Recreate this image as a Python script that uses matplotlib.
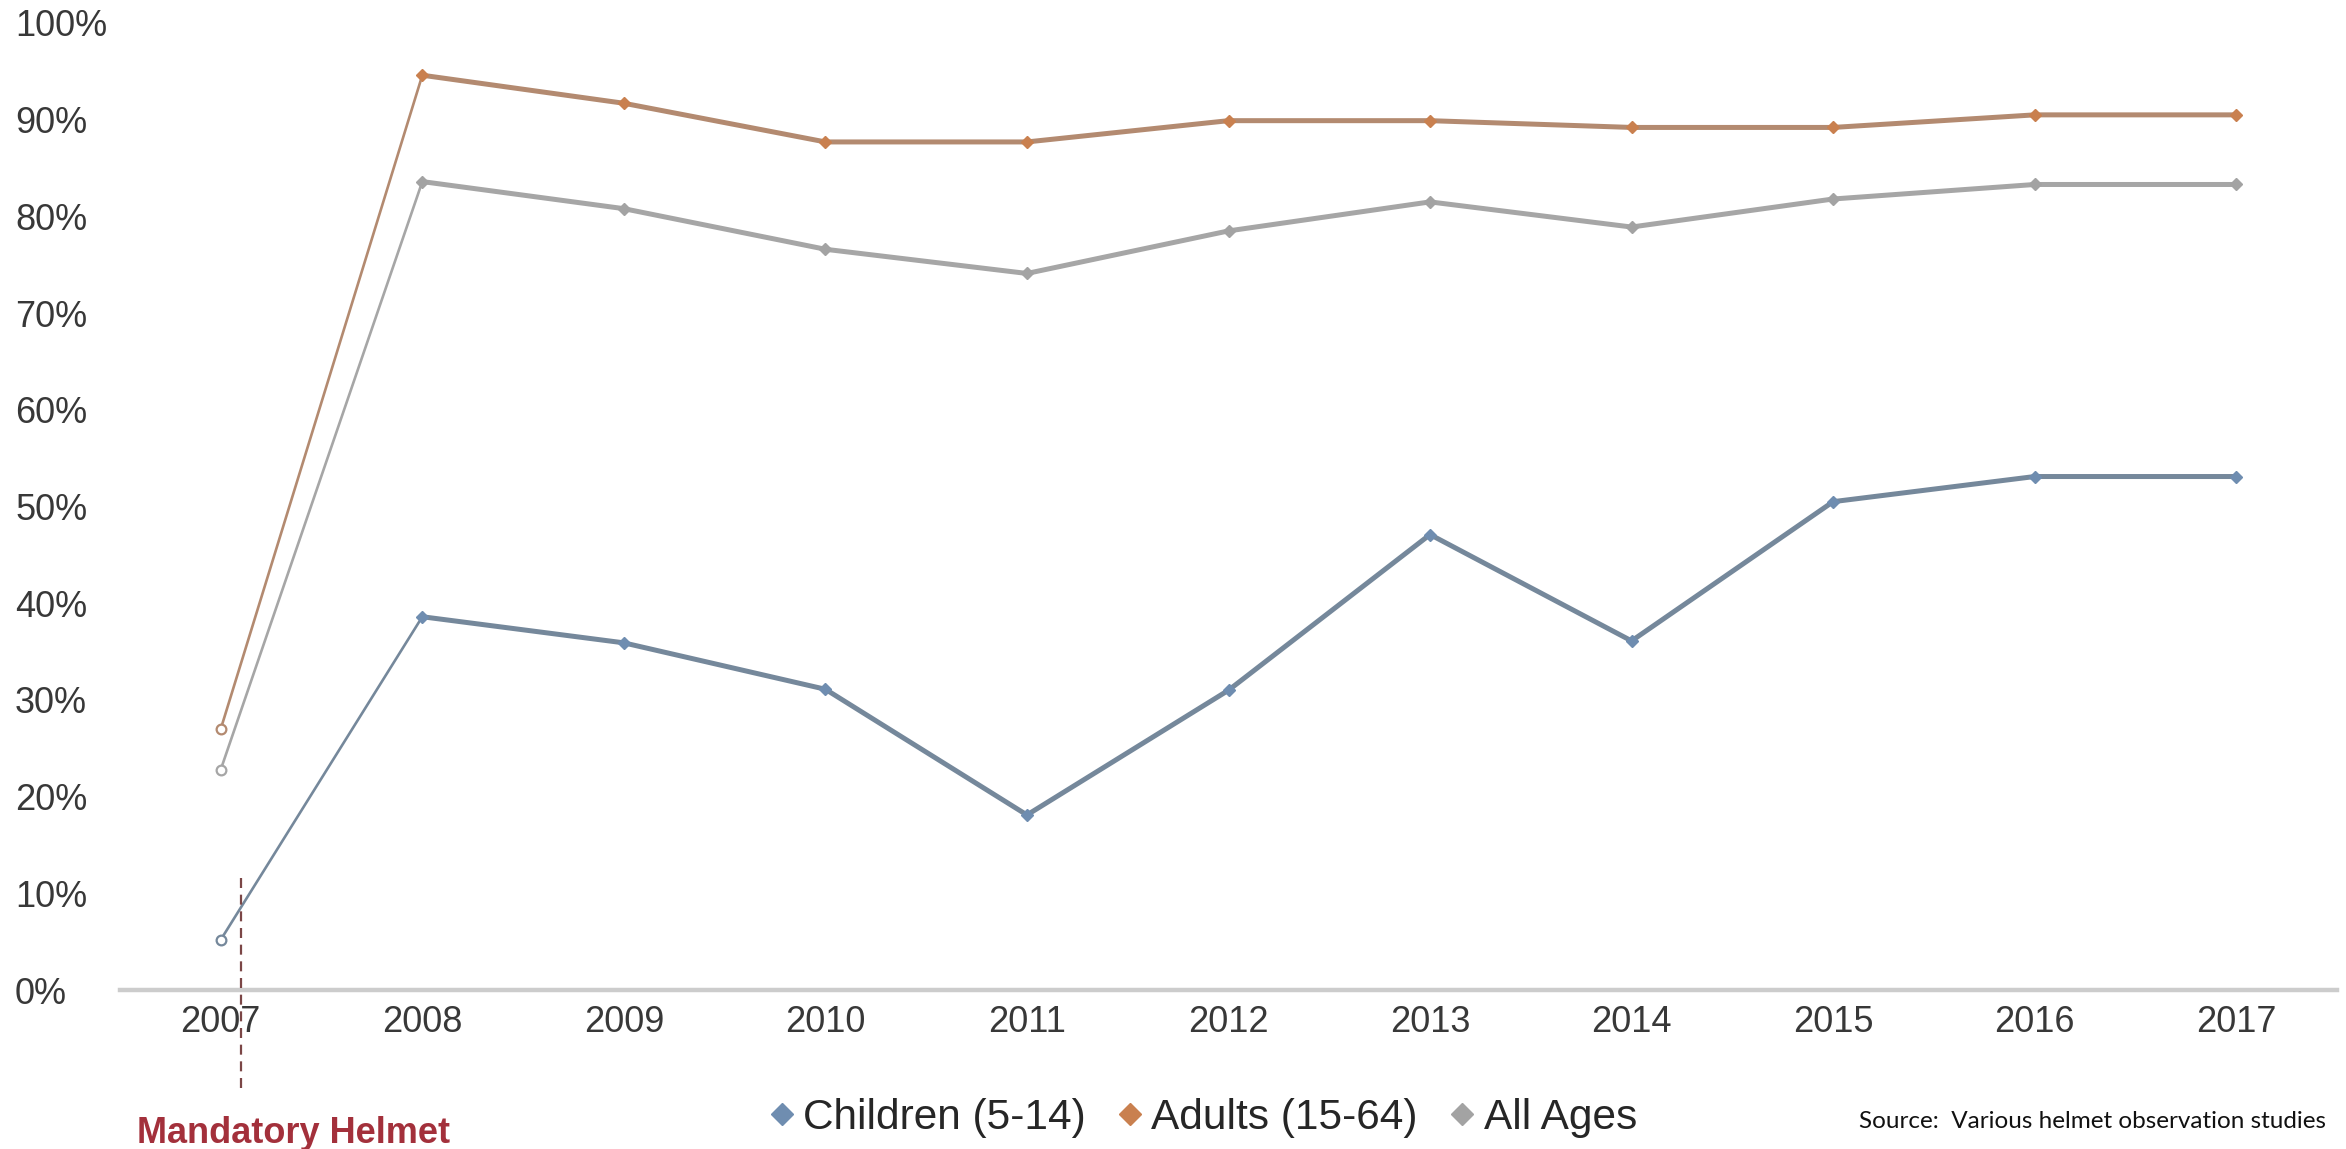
import matplotlib
matplotlib.use("Agg")
import matplotlib.pyplot as plt
from matplotlib.lines import Line2D
import numpy as np

# Helmet wearing rates (%) by survey year
years = ["2007", "2008", "2009", "2010", "2011", "2012", "2013", "2014", "2015", "2016", "2017"]
children = [5.2, 38.6, 35.9, 31.1, 18.1, 31.0, 47.1, 36.1, 50.5, 53.1, 53.1]
adults = [27.0, 94.6, 91.7, 87.7, 87.7, 89.9, 89.9, 89.2, 89.2, 90.5, 90.5]
all_ages = [22.8, 83.6, 80.8, 76.6, 74.1, 78.5, 81.5, 78.9, 81.8, 83.3, 83.3]
series_names = ["Children (5-14)", "Adults (15-64)", "All Ages"]
y_ticks = list(range(0, 101, 10))
y_tick_labels = [f"{v}%" for v in y_ticks]

line_colors = ["#75889b", "#b38a70", "#a6a6a6"]
marker_colors = ["#6f8db0", "#c9804f", "#a3a3a3"]

W, H = 2346, 1149
fig = plt.figure(figsize=(W / 100, H / 100), dpi=100)
ax = fig.add_axes([120 / W, 1 - 990 / H, (2337 - 120) / W, (990 - 23) / H])

x = np.arange(len(years))
for vals, lc, mc in zip([children, adults, all_ages], line_colors, marker_colors):
    # first survey (pre-law) drawn with a thin segment and an open marker
    ax.plot(x[:2], vals[:2], color=lc, lw=1.9, solid_capstyle="round", zorder=2)
    ax.plot(x[0], vals[0], marker="o", ms=7, mfc="white", mec=lc, mew=1.6,
            ls="none", zorder=4)
    ax.plot(x[1:], vals[1:], color=lc, lw=3.6, solid_joinstyle="round",
            marker="D", ms=6.5, mfc=mc, mec=mc, zorder=3)

ax.set_xlim(-0.5, len(years) - 0.5)
ax.set_ylim(0, 100)
ax.set_xticks(x)
ax.set_xticklabels(years, fontsize=26, family="Liberation Sans", color="#383838")
ax.set_yticks(y_ticks)
ax.set_yticklabels(y_tick_labels, fontsize=26, family="Liberation Sans", color="#383838")
for lbl in ax.get_yticklabels():
    lbl.set_horizontalalignment("left")
ax.tick_params(axis="y", length=0, pad=105 * 0.72)
ax.tick_params(axis="x", length=0, pad=11)

for side in ["top", "right", "left"]:
    ax.spines[side].set_visible(False)
ax.spines["bottom"].set_color("#cccccc")
ax.spines["bottom"].set_linewidth(3.2)

# helmet law marker just after the 2007 survey
ax.axvline(0.1, ymin=-0.101, ymax=0.117, clip_on=False, color="#7b4646",
           lw=1.6, dashes=(4.5, 3), zorder=5)
fig.text(294 / W, 1 - 1143 / H, "Mandatory Helmet", ha="center", va="baseline",
         fontsize=26, fontweight="bold", color="#a3303b", family="Liberation Sans")

handles = [Line2D([], [], ls="none", marker="D", ms=11, mfc=mc, mec=mc)
           for mc in marker_colors]
fig.legend(handles, series_names, loc="center",
           bbox_to_anchor=(1203 / W, 1 - 1118 / H), ncol=3, frameon=False,
           prop={"family": "Liberation Sans", "size": 30.5},
           labelcolor="#262626", handlelength=0.6, handletextpad=0.2,
           columnspacing=0.75, borderpad=0, borderaxespad=0)

fig.text(2326 / W, 1 - 1128 / H, "Source:  Various helmet observation studies",
         ha="right", va="baseline", fontsize=17.5, family="Lato", color="#111111")

fig.savefig("out.png", dpi=100, facecolor="white")
